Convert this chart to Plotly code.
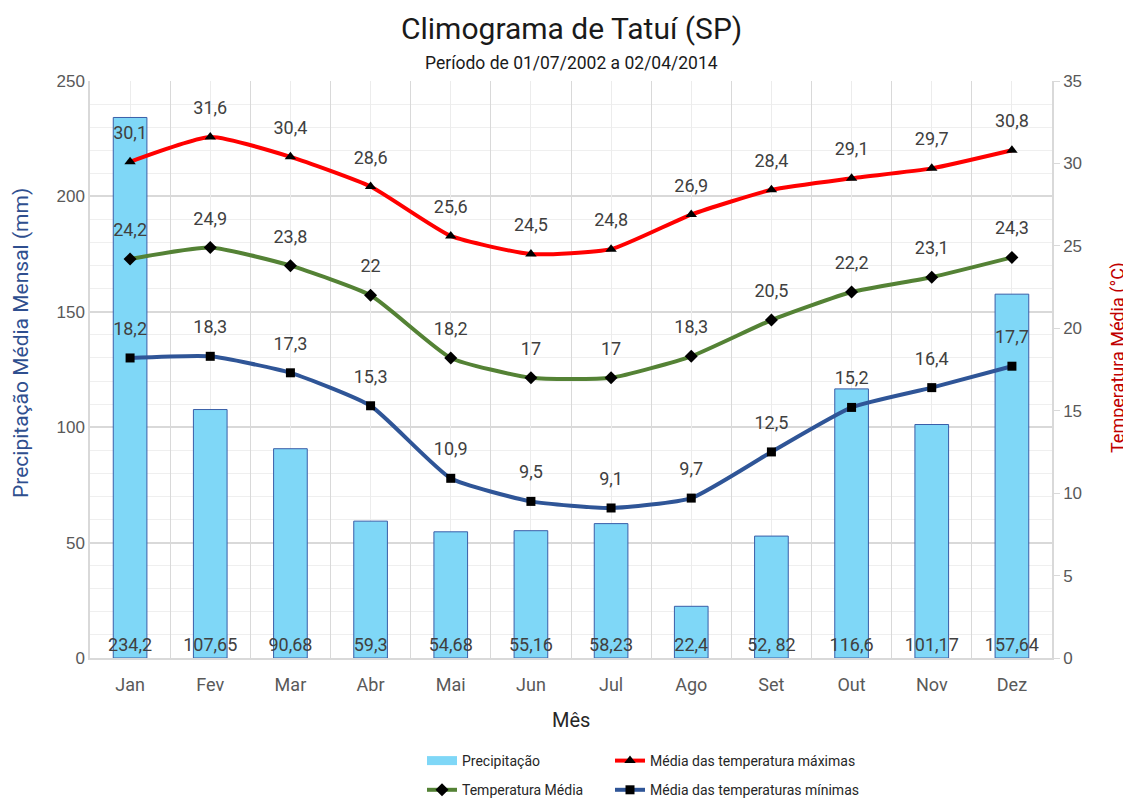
import plotly.graph_objects as go

months = ["Jan", "Fev", "Mar", "Abr", "Mai", "Jun", "Jul", "Ago", "Set", "Out", "Nov", "Dez"]
precip = [234.2, 107.65, 90.68, 59.3, 54.68, 55.16, 58.23, 22.4, 52.82, 116.6, 101.17, 157.64]
precip_labels = ["234,2", "107,65", "90,68", "59,3", "54,68", "55,16", "58,23", "22,4", "52, 82", "116,6", "101,17", "157,64"]
tmax = [30.1, 31.6, 30.4, 28.6, 25.6, 24.5, 24.8, 26.9, 28.4, 29.1, 29.7, 30.8]
tmean = [24.2, 24.9, 23.8, 22, 18.2, 17, 17, 18.3, 20.5, 22.2, 23.1, 24.3]
tmin = [18.2, 18.3, 17.3, 15.3, 10.9, 9.5, 9.1, 9.7, 12.5, 15.2, 16.4, 17.7]

def fmt(v):
    return ("%g" % v).replace(".", ",")

LBL_FONT = "Roboto, sans-serif"
TICK_FONT = "Liberation Sans, Arial, sans-serif"
lblc = "#404040"

# page body has an 8px offset; coordinates below are in figure space
W, H = 1131, 798
L, R, T, B = 82, 87, 73, 148
PW, PH = W - L - R, H - T - B

def px_x(x):
    return (x - L) / PW

def px_y(y):
    return (H - B - y) / PH

fig = go.Figure()
fig.add_trace(go.Bar(
    x=months, y=precip, name="Precipitação",
    marker=dict(color="#7fd7f7", line=dict(color="#3a5ea8", width=1)),
    width=0.42,
    text=precip_labels, textposition="inside", insidetextanchor="start",
    textangle=0, constraintext="none",
    insidetextfont=dict(family=LBL_FONT, size=18, color=lblc),
    showlegend=False, hoverinfo="skip",
))
# legend entry for the bars (wide swatch like the original)
fig.add_trace(go.Scatter(
    x=[None], y=[None], name="Precipitação", mode="lines",
    line=dict(color="#7fd7f7", width=9),
    legend="legend", legendgroup="g1",
))

series = [
    (tmax, "Média das temperatura máximas", "#ff0000", "triangle-up", 10, "legend2", "g2"),
    (tmean, "Temperatura Média", "#548235", "diamond", 10, "legend", "g3"),
    (tmin, "Média das temperaturas mínimas", "#2f5597", "square", 9, "legend2", "g4"),
]
for vals, name, col, sym, ms, leg, grp in series:
    fig.add_trace(go.Scatter(
        x=months, y=vals, yaxis="y2", name=name,
        mode="lines+markers", line=dict(color=col, width=4, shape="spline", smoothing=0.5),
        marker=dict(symbol=sym, size=ms, color="black"),
        legend=leg, legendgroup=grp,
    ))
for vals, name, col, sym, ms, leg, grp in series:
    fig.add_trace(go.Scatter(
        x=months, y=vals, yaxis="y2", mode="markers+text",
        marker=dict(size=28, opacity=0),
        text=[fmt(v) for v in vals], textposition="top center",
        textfont=dict(family=LBL_FONT, size=18, color=lblc),
        showlegend=False, hoverinfo="skip",
    ))

fig.update_layout(
    width=W, height=H,
    margin=dict(l=L, r=R, t=T, b=B, autoexpand=False),
    paper_bgcolor="white", plot_bgcolor="white",
    showlegend=True,
    annotations=[
        dict(text="Climograma de Tatuí (SP)", xref="paper", yref="paper",
             x=0.5, y=px_y(20), yanchor="middle", showarrow=False,
             font=dict(family=LBL_FONT, size=30, color="#1a1a1a")),
        dict(text="Período de 01/07/2002 a 02/04/2014", xref="paper", yref="paper",
             x=0.5, y=px_y(55), yanchor="middle", showarrow=False,
             font=dict(family=LBL_FONT, size=17.5, color="#1a1a1a")),
        dict(text="Mês", xref="paper", yref="paper",
             x=0.5, y=px_y(712), yanchor="middle", showarrow=False,
             font=dict(family=LBL_FONT, size=20, color="#262626")),
        dict(text="Precipitação Média Mensal (mm)", xref="paper", yref="paper",
             x=px_x(13), y=px_y(335), textangle=-90, xanchor="center", yanchor="middle", showarrow=False,
             font=dict(family=LBL_FONT, size=21, color="#2f4f8f")),
        dict(text="Temperatura Média (°C)", xref="paper", yref="paper",
             x=px_x(1110), y=px_y(350), textangle=-90, xanchor="center", yanchor="middle", showarrow=False,
             font=dict(family=LBL_FONT, size=18, color="#c00000")),
    ],
    xaxis=dict(
        type="category", categoryorder="array", categoryarray=months,
        range=[-0.5, 11.5], tickson="boundaries",
        showgrid=True, gridcolor="#d9d9d9", gridwidth=1,
        showline=True, linecolor="#d9d9d9", linewidth=1.5,
        ticks="", ticklabelstandoff=10,
        tickfont=dict(family=LBL_FONT, size=18, color="#595959"),
    ),
    xaxis2=dict(
        type="category", categoryorder="array", categoryarray=months,
        range=[-0.5, 11.5], overlaying="x", anchor="y",
        showgrid=True, gridcolor="#ececec", gridwidth=1,
        showticklabels=False, ticks="", showline=False, zeroline=False,
    ),
    yaxis=dict(
        range=[0, 250], dtick=50, tick0=0,
        showgrid=True, gridcolor="#d9d9d9", gridwidth=1.5,
        minor=dict(dtick=10, showgrid=True, gridcolor="#efefef", gridwidth=1),
        showline=True, linecolor="#d9d9d9", linewidth=1.5, zeroline=False,
        ticks="", tickfont=dict(family=TICK_FONT, size=17, color="#595959"),
    ),
    yaxis2=dict(
        range=[0, 35], dtick=5, overlaying="y", side="right", anchor="x",
        showgrid=False, showline=True, linecolor="#d9d9d9", linewidth=1.5, zeroline=False,
        ticks="outside", ticklen=6, tickcolor="#d9d9d9",
        tickfont=dict(family=TICK_FONT, size=17, color="#595959"),
    ),
    legend=dict(x=px_x(414), y=px_y(737),
                xanchor="left", yanchor="top", orientation="v",
                font=dict(family=LBL_FONT, size=14, color="#262626"),
                tracegroupgap=8, bgcolor="rgba(0,0,0,0)"),
    legend2=dict(x=px_x(602), y=px_y(737),
                 xanchor="left", yanchor="top", orientation="v",
                 font=dict(family=LBL_FONT, size=14, color="#262626"),
                 tracegroupgap=8, bgcolor="rgba(0,0,0,0)"),
)
fig.add_trace(go.Scatter(x=months, y=[None] * 12, xaxis="x2", showlegend=False, hoverinfo="skip"))

fig.write_html("out.html")
